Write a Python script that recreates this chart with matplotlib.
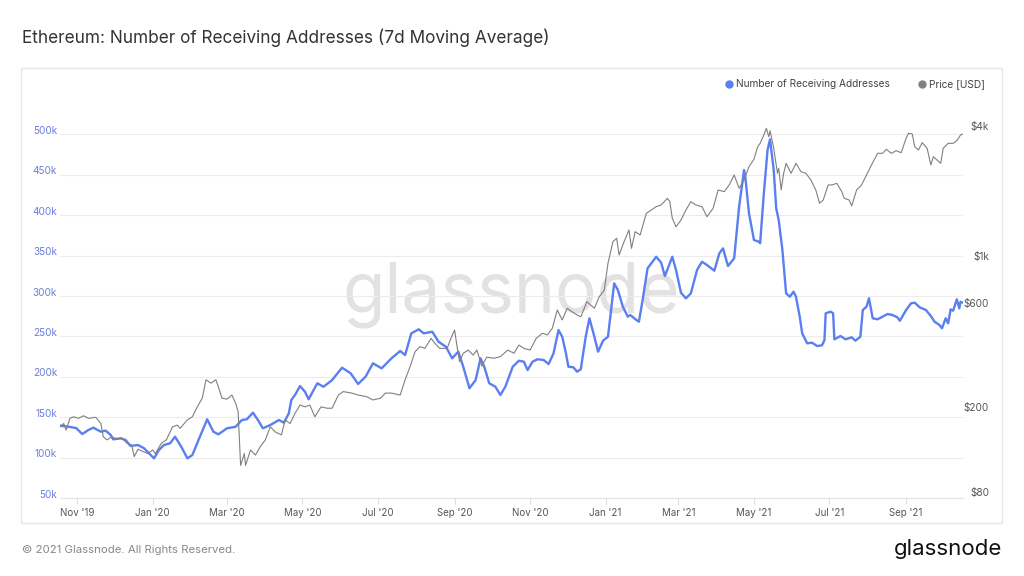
import matplotlib
matplotlib.use("Agg")
import matplotlib.pyplot as plt
import matplotlib.dates as mdates
import matplotlib.transforms as mtransforms
from matplotlib.lines import Line2D
from matplotlib.patches import Rectangle
from matplotlib.ticker import FixedLocator, NullLocator
import pandas as pd

plt.rcParams['font.family'] = ['Inter', 'DejaVu Sans']

# Number of receiving addresses, 7d moving average (thousands)
addr_dates = [
    "2019-10-18", "2019-10-25", "2019-10-31", "2019-11-05", "2019-11-10", "2019-11-14", "2019-11-20",
    "2019-11-24", "2019-11-28", "2019-11-30", "2019-12-06", "2019-12-10", "2019-12-14", "2019-12-20",
    "2019-12-25", "2019-12-29", "2020-01-02", "2020-01-06", "2020-01-10", "2020-01-15", "2020-01-19",
    "2020-01-24", "2020-01-29", "2020-02-02", "2020-02-07", "2020-02-14", "2020-02-19", "2020-02-23",
    "2020-03-01", "2020-03-08", "2020-03-13", "2020-03-17", "2020-03-22", "2020-03-26", "2020-03-30",
    "2020-04-05", "2020-04-12", "2020-04-16", "2020-04-20", "2020-04-22", "2020-04-25", "2020-04-29",
    "2020-05-03", "2020-05-06", "2020-05-13", "2020-05-18", "2020-05-25", "2020-06-02", "2020-06-09",
    "2020-06-15", "2020-06-21", "2020-06-27", "2020-07-04", "2020-07-12", "2020-07-19", "2020-07-23",
    "2020-07-28", "2020-08-03", "2020-08-07", "2020-08-14", "2020-08-19", "2020-08-25", "2020-08-30",
    "2020-09-04", "2020-09-08", "2020-09-13", "2020-09-18", "2020-09-22", "2020-09-25", "2020-09-29",
    "2020-10-04", "2020-10-08", "2020-10-12", "2020-10-18", "2020-10-23", "2020-10-27", "2020-10-30",
    "2020-11-03", "2020-11-07", "2020-11-12", "2020-11-16", "2020-11-20", "2020-11-24", "2020-11-27",
    "2020-11-30", "2020-12-02", "2020-12-06", "2020-12-09", "2020-12-12", "2020-12-16", "2020-12-19",
    "2020-12-23", "2020-12-26", "2020-12-30", "2021-01-03", "2021-01-08", "2021-01-11", "2021-01-15",
    "2021-01-19", "2021-01-21", "2021-01-26", "2021-01-28", "2021-01-31", "2021-02-04", "2021-02-11",
    "2021-02-15", "2021-02-18", "2021-02-24", "2021-02-27", "2021-03-03", "2021-03-07", "2021-03-11",
    "2021-03-16", "2021-03-20", "2021-03-24", "2021-03-30", "2021-04-03", "2021-04-06", "2021-04-10",
    "2021-04-15", "2021-04-19", "2021-04-23", "2021-04-24", "2021-04-27", "2021-05-01", "2021-05-05",
    "2021-05-06", "2021-05-09", "2021-05-12", "2021-05-14", "2021-05-17", "2021-05-19", "2021-05-21",
    "2021-05-24", "2021-05-27", "2021-05-30", "2021-06-02", "2021-06-04", "2021-06-07", "2021-06-09",
    "2021-06-13", "2021-06-17", "2021-06-21", "2021-06-25", "2021-06-27", "2021-06-28", "2021-07-02",
    "2021-07-04", "2021-07-05", "2021-07-10", "2021-07-14", "2021-07-19", "2021-07-22", "2021-07-26",
    "2021-07-28", "2021-07-31", "2021-08-02", "2021-08-05", "2021-08-09", "2021-08-13", "2021-08-17",
    "2021-08-21", "2021-08-25", "2021-08-27", "2021-09-01", "2021-09-05", "2021-09-08", "2021-09-12",
    "2021-09-17", "2021-09-21", "2021-09-24", "2021-09-28", "2021-09-30", "2021-10-03", "2021-10-05",
    "2021-10-07", "2021-10-09", "2021-10-12", "2021-10-14", "2021-10-15", "2021-10-17",
]
addr_k = [
    139.5, 138.2, 136.6, 129.2, 134.2, 137.0, 132.1,
    133.3, 128.0, 122.6, 123.9, 121.8, 114.4, 115.6,
    111.5, 105.3, 99.1, 109.4, 115.6, 117.7, 125.9,
    113.5, 99.1, 103.2, 121.8, 147.4, 132.1, 128.8,
    136.3, 138.2, 146.5, 147.4, 155.6, 146.5, 136.3,
    140.3, 146.5, 143.2, 154.8, 171.3, 177.5, 188.6,
    181.6, 172.2, 192.0, 187.7, 196.0, 211.3, 204.3,
    191.1, 200.1, 216.7, 210.5, 222.9, 231.9, 227.0,
    253.8, 258.8, 253.8, 255.8, 243.4, 237.2, 222.9,
    231.1, 212.5, 185.8, 196.0, 222.9, 212.5, 192.0,
    187.7, 177.5, 187.7, 212.5, 219.9, 218.7, 208.4,
    218.7, 221.7, 220.8, 215.8, 229.1, 257.9, 249.6,
    229.1, 212.5, 211.8, 206.3, 209.3, 249.6, 272.4,
    249.6, 231.1, 244.7, 249.6, 315.7, 307.4, 286.8,
    274.4, 276.5, 270.3, 268.2, 295.0, 334.3, 348.6,
    341.2, 324.7, 348.6, 332.2, 304.1, 297.1, 303.3,
    332.2, 342.4, 338.4, 331.3, 352.8, 359.0, 337.1,
    346.7, 410.5, 455.9, 447.6, 402.3, 369.3, 367.2,
    365.2, 427.1, 480.7, 493.9, 455.9, 408.5, 394.1,
    357.0, 303.3, 299.1, 305.3, 299.1, 274.4, 253.8,
    241.5, 242.2, 238.1, 239.0, 245.5, 278.6, 280.6,
    278.6, 246.4, 250.5, 246.4, 248.9, 244.7, 249.6,
    282.7, 286.8, 297.1, 272.4, 271.2, 274.4, 277.7,
    276.5, 273.6, 269.4, 282.7, 291.0, 291.7, 286.0,
    282.7, 275.2, 268.2, 264.1, 260.0, 272.4, 266.2,
    283.5, 281.8, 295.9, 284.8, 292.9, 291.7,
]

# ETH price in USD
price_dates = [
    "2019-10-18", "2019-10-21", "2019-10-23", "2019-10-26", "2019-10-29", "2019-11-02", "2019-11-06",
    "2019-11-10", "2019-11-16", "2019-11-20", "2019-11-22", "2019-11-25", "2019-11-29", "2019-12-03",
    "2019-12-07", "2019-12-11", "2019-12-15", "2019-12-17", "2019-12-20", "2019-12-24", "2019-12-28",
    "2020-01-01", "2020-01-03", "2020-01-08", "2020-01-12", "2020-01-17", "2020-01-21", "2020-01-23",
    "2020-01-29", "2020-02-02", "2020-02-06", "2020-02-10", "2020-02-13", "2020-02-17", "2020-02-21",
    "2020-02-23", "2020-02-26", "2020-03-01", "2020-03-05", "2020-03-08", "2020-03-10", "2020-03-12",
    "2020-03-15", "2020-03-16", "2020-03-20", "2020-03-24", "2020-03-28", "2020-04-01", "2020-04-05",
    "2020-04-09", "2020-04-14", "2020-04-17", "2020-04-21", "2020-04-25", "2020-04-29", "2020-05-03",
    "2020-05-07", "2020-05-11", "2020-05-16", "2020-05-21", "2020-05-25", "2020-05-30", "2020-06-03",
    "2020-06-10", "2020-06-15", "2020-06-22", "2020-06-27", "2020-07-03", "2020-07-07", "2020-07-12",
    "2020-07-19", "2020-07-23", "2020-07-27", "2020-07-31", "2020-08-04", "2020-08-08", "2020-08-13",
    "2020-08-16", "2020-08-20", "2020-08-26", "2020-08-29", "2020-09-01", "2020-09-03", "2020-09-05",
    "2020-09-08", "2020-09-12", "2020-09-16", "2020-09-19", "2020-09-23", "2020-09-27", "2020-10-03",
    "2020-10-08", "2020-10-14", "2020-10-19", "2020-10-23", "2020-10-27", "2020-11-01", "2020-11-06",
    "2020-11-11", "2020-11-15", "2020-11-19", "2020-11-23", "2020-11-27", "2020-12-01", "2020-12-05",
    "2020-12-09", "2020-12-12", "2020-12-17", "2020-12-23", "2020-12-27", "2020-12-31", "2021-01-03",
    "2021-01-07", "2021-01-10", "2021-01-12", "2021-01-16", "2021-01-20", "2021-01-22", "2021-01-25",
    "2021-01-29", "2021-02-03", "2021-02-07", "2021-02-11", "2021-02-15", "2021-02-20", "2021-02-22",
    "2021-02-24", "2021-02-27", "2021-03-03", "2021-03-07", "2021-03-11", "2021-03-15", "2021-03-20",
    "2021-03-24", "2021-03-29", "2021-04-02", "2021-04-07", "2021-04-11", "2021-04-15", "2021-04-19",
    "2021-04-23", "2021-04-27", "2021-05-01", "2021-05-04", "2021-05-06", "2021-05-09", "2021-05-11",
    "2021-05-13", "2021-05-14", "2021-05-17", "2021-05-20", "2021-05-21", "2021-05-23", "2021-05-25",
    "2021-05-27", "2021-05-31", "2021-06-04", "2021-06-08", "2021-06-12", "2021-06-16", "2021-06-20",
    "2021-06-23", "2021-06-26", "2021-06-30", "2021-07-03", "2021-07-07", "2021-07-11", "2021-07-13",
    "2021-07-17", "2021-07-19", "2021-07-23", "2021-07-27", "2021-07-31", "2021-08-04", "2021-08-09",
    "2021-08-13", "2021-08-16", "2021-08-20", "2021-08-24", "2021-08-28", "2021-09-01", "2021-09-03",
    "2021-09-06", "2021-09-08", "2021-09-11", "2021-09-14", "2021-09-18", "2021-09-21", "2021-09-23",
    "2021-09-26", "2021-09-29", "2021-10-01", "2021-10-05", "2021-10-09", "2021-10-12", "2021-10-15",
    "2021-10-17",
]
price_usd = [
    169, 175, 163, 185, 188, 185, 190,
    185, 187, 175, 152, 147, 152, 148,
    150, 142, 139, 123, 133, 130, 127,
    132, 127, 142, 147, 169, 172, 166,
    182, 188, 209, 229, 279, 269, 279,
    259, 229, 227, 237, 217, 199, 112,
    127, 112, 132, 125, 137, 147, 169,
    160, 155, 182, 175, 195, 213, 209,
    213, 188, 209, 206, 206, 237, 246,
    242, 237, 233, 225, 229, 242, 242,
    237, 279, 321, 376, 397, 390, 434,
    412, 390, 390, 434, 474, 397, 338,
    370, 383, 363, 383, 323, 355, 351,
    357, 383, 370, 404, 390, 383, 434,
    458, 450, 483, 587, 528, 598, 576,
    557, 546, 641, 598, 677, 726, 966,
    1216, 1261, 1055, 1216, 1378, 1133, 1353,
    1306, 1646, 1705, 1766, 1799, 1931, 1863,
    1560, 1426, 1532, 1705, 1863, 1799, 1766,
    1587, 1736, 2110, 2072, 2226, 2476, 2149,
    2348, 2705, 2926, 3346, 3471, 3792, 4073,
    3724, 3970, 3291, 2521, 2659, 2110, 2521,
    2804, 2521, 2804, 2564, 2521, 2348, 2110,
    1831, 1896, 2226, 2226, 2266, 2072, 1931,
    1896, 1780, 2110, 2226, 2476, 2755, 3120,
    3120, 3256, 3120, 3208, 3140, 3661, 3862,
    3833, 3346, 3232, 3494, 3291, 2755, 3008,
    2905, 2804, 3291, 3471, 3471, 3569, 3792,
    3833,
]

left_ticks = [50, 100, 150, 200, 250, 300, 350, 400, 450, 500]
left_labels = ["50k", "100k", "150k", "200k", "250k", "300k", "350k", "400k", "450k", "500k"]
right_ticks = [80, 200, 600, 1000, 4000]
right_labels = ["$80", "$200", "$600", "$1k", "$4k"]

blue = "#5b7ff0"
gray = "#808080"

W, H = 1024, 576
fig = plt.figure(figsize=(W / 100, H / 100), dpi=100)
fig.patch.set_facecolor("white")

# chart frame and title
fig.add_artist(Rectangle((21 / W, 53 / H), 981 / W, 455 / H, fill=False,
                         edgecolor="#e6e6e6", lw=1, transform=fig.transFigure))
fig.text(22 / W, 1 - 38 / H, "Ethereum: Number of Receiving Addresses (7d Moving Average)",
         fontsize=12.4, color="#333333", va="center", ha="left")

ax = fig.add_axes([60 / W, 78 / H, 903 / W, 398 / H])
ax2 = ax.twinx()

a_dates = pd.to_datetime(addr_dates)
p_dates = pd.to_datetime(price_dates)

ax.text(0.5, 0.51, "glassnode", transform=ax.transAxes, ha="center", va="center",
        fontsize=50, color="#e2e2e2", zorder=0)

ax.plot(a_dates, addr_k, color=blue, lw=1.7, zorder=2)
ax2.plot(p_dates, price_usd, color=gray, lw=0.8, zorder=2)

ax.set_xlim(pd.Timestamp("2019-10-18"), pd.Timestamp("2021-10-17"))
ax.set_ylim(50, 542.6)
ax2.set_yscale("log")
ax2.set_ylim(79.1, 5507)

ax.yaxis.set_major_locator(FixedLocator(left_ticks))
ax.set_yticklabels(left_labels)
ax2.yaxis.set_major_locator(FixedLocator(right_ticks))
ax2.yaxis.set_minor_locator(NullLocator())
ax2.set_yticklabels(right_labels)

ax.xaxis.set_major_locator(mdates.MonthLocator(bymonth=[1, 3, 5, 7, 9, 11]))
ax.xaxis.set_major_formatter(mdates.DateFormatter("%b '%y"))

ax.grid(axis="y", color="#ececec", lw=0.8)
ax.set_axisbelow(True)
for a in (ax, ax2):
    for s in a.spines.values():
        s.set_visible(False)
ax.spines["bottom"].set_visible(True)
ax.spines["bottom"].set_color("#e3e3e3")

ax.tick_params(axis="x", length=4, color="#dddddd", pad=3, labelsize=7, labelcolor="#555555")
ax.tick_params(axis="y", length=0, pad=2, labelsize=7.2, labelcolor="#6a7fd9")
ax2.tick_params(axis="y", length=0, pad=18.7, labelsize=7.2, labelcolor="#555555")

lift = mtransforms.ScaledTranslation(0, 3.2 / 72, fig.dpi_scale_trans)
for lab in ax.get_yticklabels():
    lab.set_transform(lab.get_transform() + lift)
for lab in ax2.get_yticklabels():
    lab.set_transform(lab.get_transform() + lift)
    lab.set_horizontalalignment("right")

# legend
ly = 1 - 84 / H
fig.add_artist(Line2D([729 / W], [ly], marker="o", ms=5, color=blue, transform=fig.transFigure))
fig.text(736 / W, ly, "Number of Receiving Addresses", fontsize=7.3, color="#444444", va="center")
fig.add_artist(Line2D([922 / W], [ly], marker="o", ms=5, color=gray, transform=fig.transFigure))
fig.text(929 / W, ly, "Price [USD]", fontsize=7.3, color="#444444", va="center")

# footer
fig.text(22 / W, 1 - 550 / H, "© 2021 Glassnode. All Rights Reserved.", fontsize=8.2,
         color="#888888", va="center")
fig.text(1002 / W, 1 - 549 / H, "glassnode", fontsize=16, color="#111111",
         va="center", ha="right")

fig.savefig("out.png", dpi=100)
